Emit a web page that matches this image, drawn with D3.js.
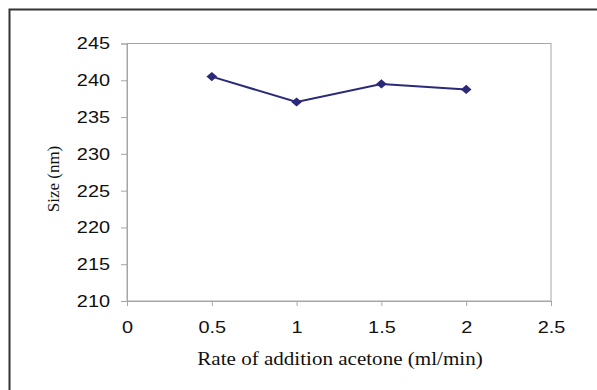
<!DOCTYPE html>
<html><head><meta charset="utf-8">
<script src="https://cdn.jsdelivr.net/npm/d3@7"></script>
<style>body{margin:0;background:#fff}svg{display:block}</style>
</head><body>
<script>
const rates = [0.5, 1, 1.5, 2];
const sizes = [240.5, 237.05, 239.5, 238.75];
const xTicks = [0, 0.5, 1, 1.5, 2, 2.5];
const yTicks = [210, 215, 220, 225, 230, 235, 240, 245];
const xTitle = "Rate of addition acetone (ml/min)";
const yTitle = "Size (nm)";

const W = 597, H = 390;
const STRETCH = 1.17;
const svg = d3.select("body").append("svg").attr("width", W).attr("height", H);
svg.append("rect").attr("width", W).attr("height", H).attr("fill", "#fff");
// outer frame (left and top)
svg.append("path").attr("d", `M9.5,${H+2} V9.5 H${W+2}`).attr("fill","none").attr("stroke","#333").attr("stroke-width",2);

const L = 127, R = 551, T = 43.5, B = 301;
const x = d3.scaleLinear().domain([0, 2.5]).range([L, R]);
const y = d3.scaleLinear().domain([210, 245]).range([B, T]);

svg.append("rect").attr("x", L).attr("y", T).attr("width", R-L).attr("height", B-T)
  .attr("fill","none").attr("stroke","#a6a6a6").attr("stroke-width",1);

const gx = svg.append("g").attr("transform", `translate(0,${B})`)
  .call(d3.axisBottom(x).tickValues(xTicks).tickFormat(d3.format("")).tickSize(5).tickPadding(15));
const gy = svg.append("g").attr("transform", `translate(${L},0)`)
  .call(d3.axisLeft(y).tickValues(yTicks).tickSize(6).tickPadding(11));
[gx, gy].forEach(g => {
  g.select(".domain").attr("stroke","#a6a6a6");
  g.selectAll(".tick line").attr("stroke","#a6a6a6");
  g.selectAll(".tick text").attr("font-family","'Liberation Sans', Arial, sans-serif").attr("font-size",17).attr("fill","#111")
    .each(function(){ const w=this.getComputedTextLength(); d3.select(this).attr("textLength", w*STRETCH).attr("lengthAdjust","spacingAndGlyphs"); });
});

const line = d3.line().x((d,i)=>x(rates[i])).y(d=>y(d));
svg.append("path").datum(sizes).attr("d", line).attr("fill","none").attr("stroke","#2b2a78").attr("stroke-width",2);
svg.selectAll(".pt").data(sizes).enter().append("path")
  .attr("transform",(d,i)=>`translate(${x(rates[i])},${y(d)}) scale(1.1,0.95)`)
  .attr("d", d3.symbol().type(d3.symbolDiamond2).size(60))
  .attr("fill","#2b2a78");

const xt = svg.append("text").attr("x", 340).attr("y", 365).attr("text-anchor","middle")
  .attr("font-family","'Liberation Serif', 'Times New Roman', serif").attr("font-size",18).attr("fill","#111").text(xTitle);
xt.attr("textLength", xt.node().getComputedTextLength()*STRETCH).attr("lengthAdjust","spacingAndGlyphs");
svg.append("text").attr("transform","translate(59,179) rotate(-90)").attr("text-anchor","middle")
  .attr("font-family","'Liberation Serif', 'Times New Roman', serif").attr("font-size",17).attr("fill","#111").text(yTitle);
</script>
</body></html>
